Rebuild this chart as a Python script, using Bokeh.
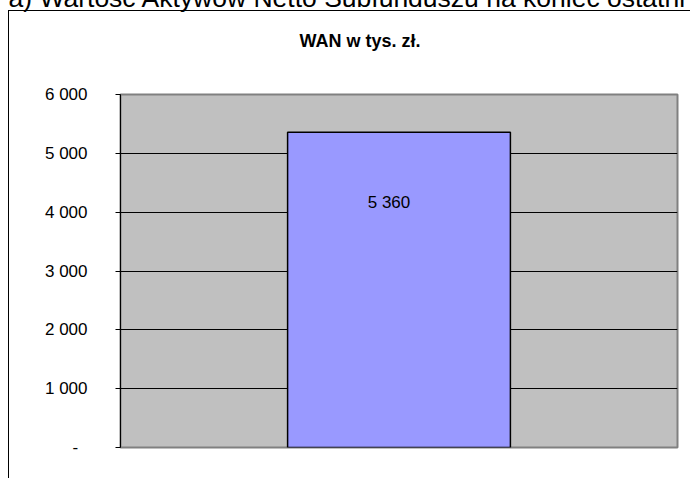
from bokeh.plotting import figure
from bokeh.models import FactorRange, Range1d, FixedTicker, Title, ColumnDataSource
from bokeh.core.properties import value
from bokeh.embed import file_html
from bokeh.resources import INLINE

# ---- data ----
categories = ["WAN"]
wan_values = [5360]
y_ticks = [0, 1000, 2000, 3000, 4000, 5000, 6000]
y_tick_labels = ["-\u00a0\u00a0", "1 000", "2 000", "3 000", "4 000", "5 000", "6 000"]
title_text = "WAN w tys. zł."
caption_text = "a) Wartość Aktywów Netto Subfunduszu na koniec ostatni"

def fmt(v):
    return "{:,}".format(v).replace(",", " ")

FONT = "Liberation Sans"
SHIFT = 20  # figure is pulled up by this many pixels so the caption is cut at the top

source = ColumnDataSource(dict(cat=categories, val=wan_values,
                               lbl=[fmt(v) for v in wan_values]))

p = figure(width=690, height=478 + SHIFT, output_backend="svg", toolbar_location=None,
           x_range=FactorRange(factors=categories), y_range=Range1d(0, 6000),
           min_border_left=120, min_border_right=13, min_border_top=94 + SHIFT,
           min_border_bottom=31, margin=(-SHIFT, 0, 0, 0),
           styles={
               "background-color": "white",
               "background-image": "linear-gradient(#000, #000), linear-gradient(#000, #000)",
               "background-size": "1px 100%, 100% 1px",
               "background-position": "8px %dpx, 8px %dpx" % (10 + SHIFT, 10 + SHIFT),
               "background-repeat": "no-repeat",
           })

p.background_fill_color = "#C0C0C0"
p.border_fill_alpha = 0
p.outline_line_color = "#808080"
p.outline_line_width = 2

p.vbar(x="cat", top="val", width=0.4, source=source,
       fill_color="#9999FF", line_color="black", line_width=1.5)

p.text(x="cat", y="val", text="lbl", source=source, x_offset=-10, y_offset=70,
       text_align="center", text_baseline="alphabetic",
       text_font=value(FONT), text_font_size="17px", text_color="black")

p.xaxis.visible = False
p.xgrid.visible = False

yax = p.yaxis[0]
yax.ticker = FixedTicker(ticks=y_ticks)
yax.major_label_overrides = {t: l for t, l in zip(y_ticks, y_tick_labels)}
yax.major_label_text_font = FONT
yax.major_label_text_font_size = "17px"
yax.major_label_text_color = "black"
yax.major_label_standoff = 28
yax.major_tick_in = 0
yax.major_tick_out = 5
yax.minor_tick_line_color = None
yax.axis_line_color = "black"
yax.major_tick_line_color = "black"

p.ygrid.ticker = FixedTicker(ticks=y_ticks[1:-1])
p.ygrid.grid_line_color = "black"
p.ygrid.grid_line_width = 1

# outermost panel: the document caption (cut off at the top of the page)
p.title.text = caption_text
p.title.align = "left"
p.title.offset = -112
p.title.standoff = 0
p.title.text_font = FONT
p.title.text_font_size = "26.5px"
p.title.text_font_style = "normal"
p.title.text_color = "black"

chart_title = Title(text=title_text, align="left", offset=179, standoff=32,
                    text_font=FONT, text_font_size="18px", text_font_style="bold",
                    text_color="black")
spacer = Title(text=" ", standoff=14.5, text_font=FONT, text_font_size="10px")

# innermost first
p.above = [spacer, chart_title]

open("out.html", "w").write(file_html(p, INLINE))
